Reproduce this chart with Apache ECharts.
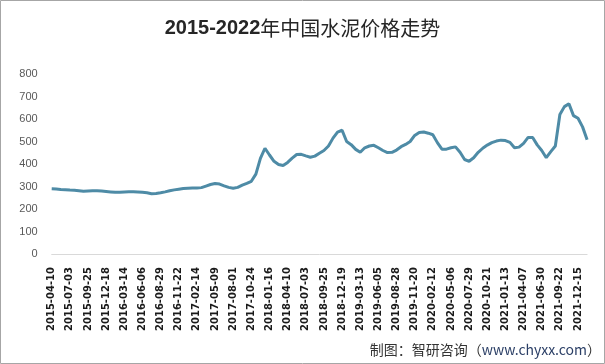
<!DOCTYPE html>
<html>
<head>
<meta charset="utf-8">
<script src="https://cdn.jsdelivr.net/npm/echarts@6/dist/echarts.min.js"></script>
<style>
html,body{margin:0;padding:0;background:#fff;}
#chart{width:605px;height:364px;}
</style>
</head>
<body>
<div id="chart"></div>
<script>
// Tick labels shown on the x axis (every 4th sample, ~12 weeks apart)
var tickLabels = [
  '2015-04-10','2015-07-03','2015-09-25','2015-12-18','2016-03-14','2016-06-06',
  '2016-08-29','2016-11-22','2017-02-14','2017-05-09','2017-08-01','2017-10-24',
  '2018-01-16','2018-04-10','2018-07-03','2018-09-25','2018-12-19','2019-03-13',
  '2019-06-05','2019-08-28','2019-11-20','2020-02-12','2020-05-06','2020-07-29',
  '2020-10-21','2021-01-13','2021-04-07','2021-06-30','2021-09-22','2021-12-15'
];

// Cement price (yuan/ton), sampled roughly every 3 weeks
var priceValues = [
  290,289,287,286,284,283,281,279,280,281,
  281,280,278,276,274,274,276,277,277,276,
  274,272,268,269,272,276,281,285,288,291,
  292,293,293,295,302,309,313,311,303,296,
  292,296,306,314,323,355,425,470,440,412,
  398,393,407,426,442,443,436,430,435,448,
  460,480,515,542,550,500,486,465,452,472,
  480,483,472,460,451,452,462,477,487,500,
  527,540,542,537,530,495,466,466,472,476,
  452,420,412,428,452,470,484,495,502,506,
  504,496,472,475,492,518,518,485,460,428,
  455,480,620,655,668,615,603,565,508
];

var yTicks = [0,100,200,300,400,500,600,700,800];

var categories = [];
for (var i = 0; i < priceValues.length; i++) {
  categories.push(i % 4 === 0 && tickLabels[i / 4] ? tickLabels[i / 4] : '');
}

var chart = echarts.init(document.getElementById('chart'));
chart.setOption({
  animation: false,
  backgroundColor: '#ffffff',
  title: {
    text: '{a|2015-2022}{b|年中国水泥价格走势}',
    left: 'center',
    top: 11,
    textStyle: {
      rich: {
        a: {fontFamily: 'Liberation Sans', fontWeight: 'bold', fontSize: 20, color: '#262626', lineHeight: 24},
        b: {fontFamily: 'Noto Sans CJK SC', fontWeight: 'normal', fontSize: 20, color: '#262626', lineHeight: 24}
      }
    }
  },
  grid: {left: 51.7, right: 17.9, top: 74, bottom: 110, containLabel: false},
  xAxis: {
    type: 'category',
    data: categories,
    boundaryGap: false,
    axisLine: {show: true, lineStyle: {color: '#d9d9d9', width: 1}},
    axisTick: {show: false},
    axisLabel: {
      interval: 3,
      rotate: 90,
      margin: 13,
      fontFamily: 'DejaVu Sans',
      fontWeight: 'bold',
      fontSize: 10,
      color: '#1a1a1a'
    },
    splitLine: {show: false}
  },
  yAxis: {
    type: 'value',
    min: yTicks[0],
    max: yTicks[yTicks.length - 1],
    interval: 100,
    axisLine: {show: false},
    axisTick: {show: false},
    splitLine: {show: false},
    axisLabel: {
      margin: 14,
      fontFamily: 'Liberation Sans',
      fontSize: 11,
      color: '#595959'
    }
  },
  series: [{
    type: 'line',
    data: priceValues,
    showSymbol: false,
    symbol: 'none',
    lineStyle: {color: '#4e8ba6', width: 3},
    itemStyle: {color: '#4e8ba6'}
  }],
  graphic: [
    {
      type: 'rect',
      shape: {x: 0.5, y: 0.5, width: 604, height: 363},
      style: {fill: 'none', stroke: '#a6a6a6', lineWidth: 1},
      silent: true
    },
    {
      type: 'text',
      right: 4,
      top: 343,
      style: {
        text: '{c|制图：智研咨询（}{w|www.chyxx.com}{c|）}',
        rich: {
          c: {fontFamily: 'Noto Sans CJK SC', fontSize: 14, fill: '#333333', lineHeight: 16},
          w: {fontFamily: 'Noto Sans CJK SC', fontSize: 14, fill: '#2b3f66', lineHeight: 16}
        }
      },
      silent: true
    }
  ]
});
</script>
</body>
</html>
